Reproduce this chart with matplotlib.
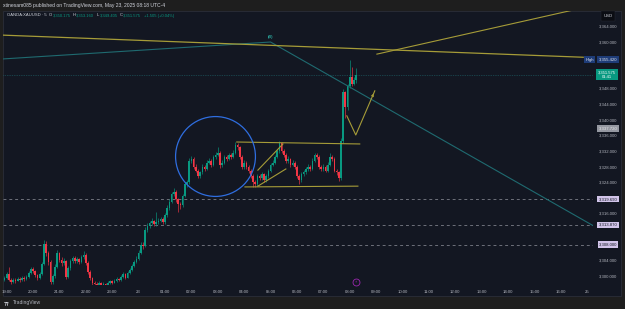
import matplotlib
matplotlib.use('Agg')
import matplotlib.pyplot as plt
import matplotlib.transforms as mtransforms
from matplotlib.patches import Rectangle
import numpy as np

plt.rcParams['font.family'] = ['Liberation Sans', 'DejaVu Sans']

# ---------------- data (5-minute candles, XAUUSD) ----------------
first_open = 3299.0
closes = [
    3299.5, 3300.5, 3299.0, 3298.5, 3299.0, 3298.8, 3299.3, 3299.0, 3299.5, 3299.2,
    3299.8, 3300.8, 3301.8, 3301.2, 3300.2, 3299.6, 3300.4, 3303.0, 3308.3, 3305.8,
    3303.5, 3298.4, 3300.0, 3302.4, 3305.8, 3304.2, 3303.3, 3303.8, 3299.8, 3302.0,
    3303.8, 3304.6, 3303.9, 3304.3, 3303.6, 3304.8, 3305.5, 3303.4, 3301.0, 3299.4,
    3298.3, 3298.0, 3297.6, 3298.1, 3297.8, 3298.0, 3297.7, 3298.2, 3298.6, 3298.3,
    3298.8, 3299.3, 3299.0, 3299.8, 3300.4, 3299.6, 3300.8, 3301.6, 3302.5, 3303.6,
    3304.3, 3306.0, 3308.0, 3307.6, 3311.8, 3312.8, 3313.6, 3314.0, 3313.2, 3313.8,
    3314.2, 3314.6, 3313.7, 3315.6, 3317.5, 3319.0, 3321.0, 3321.6, 3319.6, 3318.4,
    3318.1, 3320.5, 3323.5, 3324.0, 3329.5, 3330.0, 3328.0, 3327.0, 3325.5, 3326.5,
    3328.0, 3327.5, 3329.0, 3329.5, 3328.5, 3330.5, 3331.0, 3331.5, 3328.3, 3329.0,
    3330.5, 3330.0, 3331.0, 3330.5, 3331.5, 3333.5, 3333.0, 3330.5, 3328.0, 3329.0,
    3328.0, 3327.0, 3325.5, 3324.0, 3323.5, 3325.5, 3325.0, 3326.0, 3324.5, 3325.5,
    3327.0, 3328.5, 3329.0, 3330.5, 3332.0, 3334.0, 3332.0, 3331.0, 3329.5, 3330.0,
    3328.5, 3329.0, 3328.0, 3325.5, 3324.5, 3326.0, 3326.5, 3327.5, 3328.0, 3327.5,
    3329.5, 3331.0, 3330.5, 3328.0, 3327.5, 3328.0, 3327.0, 3328.5, 3330.5, 3330.0,
    3327.0, 3326.5, 3325.0, 3334.5, 3347.0, 3343.2, 3348.6, 3351.0, 3349.2, 3350.175,
    3351.575]
highs = [
    3300.0, 3301.0, 3302.2, 3299.4, 3299.6, 3299.5, 3299.8, 3299.7, 3300.0, 3299.9,
    3300.3, 3301.3, 3302.4, 3302.2, 3301.5, 3300.6, 3300.9, 3303.6, 3309.3, 3308.9,
    3306.3, 3304.0, 3300.6, 3303.0, 3306.6, 3306.2, 3304.8, 3304.5, 3304.2, 3302.6,
    3304.3, 3305.2, 3305.0, 3304.9, 3304.7, 3305.3, 3306.3, 3305.9, 3303.8, 3301.5,
    3299.8, 3298.8, 3298.4, 3298.6, 3298.4, 3298.5, 3298.3, 3298.7, 3299.0, 3298.9,
    3299.3, 3299.7, 3299.6, 3300.2, 3300.9, 3300.7, 3301.3, 3302.1, 3303.0, 3304.2,
    3305.0, 3306.6, 3308.7, 3308.6, 3312.5, 3313.6, 3314.2, 3314.8, 3314.3, 3316.5,
    3314.9, 3315.2, 3315.0, 3316.1, 3318.1, 3319.6, 3321.6, 3322.4, 3321.9, 3319.9,
    3319.0, 3321.1, 3324.1, 3324.7, 3330.2, 3330.8, 3330.4, 3328.6, 3327.5, 3327.0,
    3328.6, 3328.5, 3329.6, 3330.2, 3329.9, 3331.1, 3331.7, 3333.0, 3331.9, 3329.7,
    3331.0, 3331.0, 3331.6, 3331.5, 3332.2, 3334.3, 3334.0, 3333.4, 3331.0, 3329.6,
    3329.4, 3328.5, 3327.4, 3326.0, 3324.6, 3326.0, 3326.0, 3326.6, 3326.4, 3326.0,
    3327.5, 3329.0, 3329.8, 3331.0, 3332.6, 3334.5, 3334.2, 3332.6, 3331.4, 3330.6,
    3330.3, 3329.6, 3329.4, 3328.4, 3326.0, 3326.6, 3327.1, 3328.0, 3328.6, 3328.4,
    3330.1, 3331.6, 3331.4, 3330.9, 3328.5, 3328.6, 3328.4, 3329.1, 3331.6, 3331.0,
    3330.4, 3327.5, 3327.0, 3335.2, 3347.8, 3347.4, 3349.2, 3355.42, 3353.5, 3351.0,
    3353.16]
lows = [
    3298.6, 3299.2, 3298.8, 3297.9, 3298.2, 3298.3, 3298.6, 3298.5, 3298.8, 3298.7,
    3299.0, 3299.6, 3300.5, 3300.8, 3299.8, 3299.0, 3299.3, 3300.2, 3302.8, 3305.2,
    3302.8, 3297.9, 3298.0, 3299.6, 3302.0, 3303.6, 3302.5, 3302.9, 3299.2, 3299.4,
    3301.6, 3303.3, 3303.2, 3303.4, 3303.0, 3303.3, 3304.4, 3302.9, 3300.5, 3298.9,
    3297.8, 3297.4, 3297.1, 3297.3, 3297.3, 3297.4, 3297.2, 3297.5, 3297.9, 3297.9,
    3298.1, 3298.5, 3298.6, 3298.8, 3299.5, 3299.2, 3299.4, 3300.5, 3301.3, 3302.2,
    3303.3, 3304.0, 3305.6, 3307.0, 3307.3, 3311.2, 3312.4, 3313.1, 3312.7, 3312.9,
    3313.4, 3313.8, 3313.2, 3313.4, 3315.2, 3317.0, 3318.6, 3320.5, 3319.0, 3316.4,
    3317.2, 3317.6, 3320.2, 3322.9, 3323.6, 3328.9, 3327.4, 3326.5, 3325.0, 3325.0,
    3326.0, 3326.9, 3327.1, 3328.6, 3328.0, 3328.2, 3330.0, 3330.6, 3327.7, 3327.9,
    3328.6, 3329.4, 3329.6, 3330.0, 3330.2, 3331.2, 3332.3, 3330.0, 3327.4, 3327.5,
    3327.4, 3326.4, 3325.0, 3322.8, 3322.9, 3323.0, 3324.5, 3324.6, 3324.0, 3324.1,
    3325.2, 3326.6, 3328.1, 3328.6, 3330.2, 3331.6, 3331.4, 3330.5, 3329.0, 3329.0,
    3328.0, 3328.1, 3327.5, 3325.0, 3323.5, 3324.1, 3325.6, 3326.1, 3327.0, 3327.0,
    3327.1, 3329.1, 3329.9, 3327.5, 3327.0, 3327.0, 3326.5, 3326.6, 3328.1, 3329.4,
    3326.5, 3325.8, 3324.2, 3324.6, 3334.0, 3340.5, 3342.6, 3348.2, 3348.6, 3348.9,
    3349.405]
first_bar = -1          # first candle is 18:55 (bar index relative to 19:00)

time_labels = ['19:00', '20:00', '21:00', '22:00', '23:00', '23', '01:00', '02:00',
               '03:00', '04:00', '05:00', '06:00', '07:00', '08:00', '09:00', '10:00',
               '11:00', '12:00', '13:00', '14:00', '15:00', '16:00', '25']
price_ticks = [3300, 3304, 3316, 3324, 3328, 3332, 3336,
               3340, 3344, 3348, 3360, 3364]
level_prices = [3319.69, 3313.07, 3308.00]
level_labels = ['3,319.690', '3,313.870', '3,308.000']
high_price = 3355.42
last_price = 3351.575
alert_price = 3337.72

# drawings (time in hours after 19:00, price)
teal_line = ([-0.3, 10.0, 22.3], [3355.5, 3359.9, 3312.6])
yellow_long = ([-0.3, 21.85], [3361.7, 3356.0])
yellow_up = ([14.03, 22.4], [3356.8, 3369.5])
box_top = ([8.72, 13.38], [3334.3, 3333.8])
box_bot = ([9.03, 13.31], [3322.8, 3323.0])
flag_up = ([9.52, 10.47], [3327.1, 3333.8])
flag_lo = ([9.52, 10.58], [3323.0, 3327.4])
v_path = ([12.89, 13.23, 13.95], [3341.0, 3336.1, 3347.4])
circle_center = (7.89, 3330.6)

# ---------------- colours ----------------
BG = '#131722'
OUTER = '#1e1e1e'
GREEN = '#089981'
RED = '#f23645'
TXT = '#b2b5be'
YEL = '#a69c38'
TEAL = '#1f6a70'

W, H = 625, 309
fig = plt.figure(figsize=(W / 100, H / 100), dpi=100, facecolor=OUTER)

def fx(px):
    return px / W

def fy(py):
    return 1 - py / H

# panel background
panel = Rectangle((fx(3), fy(296)), fx(621) - fx(3), fy(11) - fy(296),
                  transform=fig.transFigure, facecolor=BG, edgecolor='#2a2e39',
                  linewidth=0.6, zorder=-5)
fig.patches.append(panel)

ax = fig.add_axes([fx(3), fy(285), fx(593) - fx(3), fy(11) - fy(285)])
ax.set_facecolor('none')
for s in ax.spines.values():
    s.set_visible(False)

ax.set_xlim(-0.14, 22.22)
ax.set_ylim(3364 - (285 - 26) / 3.906, 3364 - (11 - 26) / 3.906)

# candles
o = np.array([first_open] + closes[:-1])
c = np.array(closes)
hi = np.array(highs)
lo = np.array(lows)
t = (np.arange(len(c)) + first_bar) / 12.0
col = np.where(c >= o, GREEN, RED)
ax.vlines(t, lo, hi, colors=col, linewidth=0.45, zorder=3)
ax.bar(t, np.maximum(np.abs(c - o), 0.25), bottom=np.minimum(o, c), width=0.75 / 12,
       color=col, linewidth=0, zorder=4)

# horizontal levels
for lp in level_prices:
    ax.axhline(lp, color='#6d707a', linewidth=0.7, dashes=(3, 3), zorder=2)
ax.axhline(last_price, color=TEAL, linewidth=0.5, dashes=(1, 1.5), zorder=2)

# drawings
ax.plot(*teal_line, color=TEAL, linewidth=0.8, zorder=5)
ax.plot(*yellow_long, color=YEL, linewidth=0.9, zorder=5)
ax.plot(*yellow_up, color=YEL, linewidth=0.8, zorder=5)
for ln in (box_top, box_bot, flag_up, flag_lo):
    ax.plot(*ln, color=YEL, linewidth=0.8, zorder=5)
ax.plot(*v_path, color=YEL, linewidth=0.8, zorder=5)
ax.annotate('', xy=(v_path[0][2], v_path[1][2]),
            xytext=(v_path[0][1] + 0.5 * (v_path[0][2] - v_path[0][1]),
                    v_path[1][1] + 0.5 * (v_path[1][2] - v_path[1][1])),
            arrowprops=dict(arrowstyle='-|>,head_length=0.25,head_width=0.12',
                            color=YEL, lw=0.0), zorder=5)
ax.plot([circle_center[0]], [circle_center[1]], marker='o', markersize=57.5,
        markerfacecolor='none', markeredgecolor='#2f6ee0', markeredgewidth=0.9,
        zorder=6)
ax.text(10.0, 3361.3, '(B)', color='#2aa39a', fontsize=2.8, ha='center',
        va='center', fontweight='bold', zorder=6)

# event marker near bottom
trans_mark = mtransforms.blended_transform_factory(ax.transData, ax.transAxes)
ax.plot([13.23], [0.012], marker='o', markersize=5, markerfacecolor='none',
        markeredgecolor='#9c27b0', markeredgewidth=0.6, transform=trans_mark,
        clip_on=False, zorder=6)
ax.text(13.23, 0.012, '⚡', color='#9c27b0', fontsize=2.5, ha='center',
        va='center', transform=trans_mark, family=['DejaVu Sans'], zorder=6)

# axes ticks
ax.set_xticks(range(len(time_labels)))
ax.set_xticklabels(time_labels)
ax.set_yticks(price_ticks)
ax.set_yticklabels([f'{p:,.3f}' for p in price_ticks])
ax.yaxis.tick_right()
ax.tick_params(axis='both', length=0, colors=TXT, labelsize=3.1)
ax.tick_params(axis='x', pad=3.6)
ax.tick_params(axis='y', pad=4.5)

# right-axis labels
ytr = mtransforms.blended_transform_factory(ax.transAxes, ax.transData)
xlab = (608 - 3) / 590

def price_box(y, s, fc, tc, x=xlab, size=3.1):
    ax.text(x, y, s, transform=ytr, ha='center', va='center', fontsize=size,
            color=tc, clip_on=False, zorder=10,
            bbox=dict(boxstyle='square,pad=0.3', facecolor=fc, edgecolor='none'))

for lp, ll in zip(level_prices, level_labels):
    price_box(lp, ll, '#d1c4e9', '#131722')
price_box(alert_price, f'{alert_price:,.3f}', '#9598a1', '#e8e8ea')
price_box(high_price, f'{high_price:,.3f}', '#1e3c78', '#e0e3eb')
ax.text((589.5 - 3) / 590, high_price, 'High', transform=ytr, ha='center',
        va='center', fontsize=3.1, color='#e0e3eb', clip_on=False, zorder=10,
        bbox=dict(boxstyle='square,pad=0.3', facecolor='#1e3c78', edgecolor='none'))
ax.text((607 - 3) / 590, last_price, f'{last_price:,.3f}\n01:41', transform=ytr,
        ha='center', va='center', fontsize=3.0, color='#ffffff', clip_on=False,
        zorder=10, linespacing=1.0,
        bbox=dict(boxstyle='square,pad=0.45', facecolor=GREEN, edgecolor='none'))

# USD box
fig.text(fx(608), fy(16), 'USD', ha='center', va='center', fontsize=3.1,
         color='#d1d4dc',
         bbox=dict(boxstyle='square,pad=0.6', facecolor='#0b0d13', edgecolor='#2a2e39',
                   linewidth=0.3))

# header
fig.text(fx(3), fy(5.5), 'xtinesam085 published on TradingView.com, May 23, 2025 08:18 UTC-4',
         ha='left', va='center', fontsize=3.6, color='#d1d4dc')

# legend line, laid out piece by piece
renderer = fig.canvas.get_renderer()
legend_parts = [
    ('OANDA:XAUUSD · 5', '#d1d4dc', 2.5),
    ('O', '#d1d4dc', 0.2), ('3,350.175', GREEN, 2.5),
    ('H', '#d1d4dc', 0.2), ('3,353.160', GREEN, 2.5),
    ('L', '#d1d4dc', 0.2), ('3,349.405', GREEN, 2.5),
    ('C', '#d1d4dc', 0.2), ('3,351.575', GREEN, 2.5),
    ('+1.505 (+0.04%)', GREEN, 0),
]
xcur = 7.0
for s, cc, gap in legend_parts:
    tt = fig.text(fx(xcur), fy(15.5), s, ha='left', va='center', fontsize=2.95, color=cc)
    bb = tt.get_window_extent(renderer)
    xcur = bb.x1 + gap

# footer logo
fig.text(fx(4), fy(302.5), '⁊⁊', ha='left', va='center', fontsize=4, color='#d1d4dc',
         fontweight='bold', family=['DejaVu Sans'])
fig.text(fx(13), fy(302.5), 'TradingView', ha='left', va='center', fontsize=3.6,
         color='#b2b5be')

fig.savefig('out.png', dpi=100, facecolor=OUTER)
